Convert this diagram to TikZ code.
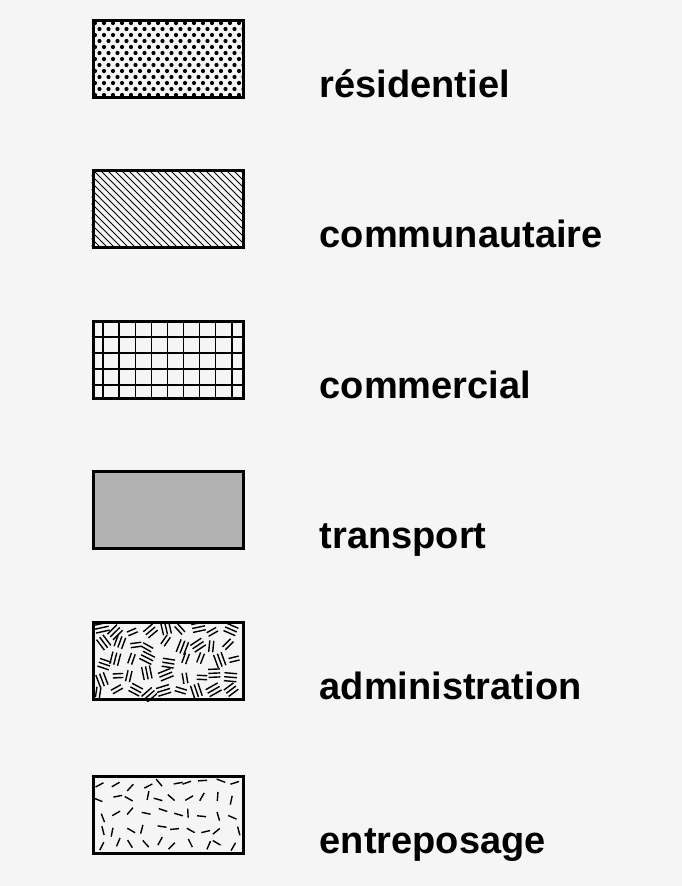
\documentclass[tikz,border=0pt]{standalone}
\usepackage{fontspec}
\setmainfont{Liberation Sans}
\usetikzlibrary{positioning}
\tikzset{
  legendbox/.style={draw, line width=3pt, minimum width=150pt, minimum height=77pt, inner sep=0pt},
  legendtext/.style={font=\fontsize{38}{42}\selectfont\bfseries, inner sep=0pt},
  hatch/.style={line width=1pt},
  gridline/.style={line width=1.4pt},
  stroke/.style={line width=1.4pt},
}

\begin{document}
\begin{tikzpicture}[x=1pt, y=-1pt]
    % paper
    \fill[black!4] (0,0) rectangle (682,886);
    \useasboundingbox (0,0) rectangle (682,886);

    % legend boxes
    \node[legendbox] (res) at (168,58.5) {};
    \node[legendbox] (comm) at (168,208.5) {};
    \node[legendbox] (comrc) at (168,359.5) {};
    \node[legendbox, fill=black!30] (transp) at (168,509.5) {};
    \node[legendbox] (admin) at (168,661) {};
    \node[legendbox] (entrep) at (168,814.5) {};

    % dots
    \begin{scope}
        \clip (res.south west) rectangle (res.north east);
        \foreach \r in {0,...,12}
            \foreach \c in {0,...,17}
                \fill ({95+9*\c+4.5*mod(\r,2)},{23+6*\r}) circle (2.1pt);
    \end{scope}

    % diagonal hatching
    \begin{scope}
        \clip (comm.south west) rectangle (comm.north east);
        \foreach \k in {-12,...,22}
            \draw[hatch] ({93+7*\k},170) -- ++(80,80);
    \end{scope}

    % grid
    \begin{scope}
        \clip (comrc.south west) rectangle (comrc.north east);
        \foreach \k in {0,...,8}
            \draw[gridline] ({103+16.1*\k},321) -- ++(0,77);
        \foreach \k in {0,...,3}
            \draw[gridline] (93,{337+16*\k}) -- ++(150,0);
    \end{scope}

    % clustered strokes
    \pgfmathsetseed{42}
    \begin{scope}
        \clip (admin.south west) rectangle (admin.north east);
        \foreach \c in {0,...,8}
            \foreach \r in {0,...,4}{
                \pgfmathsetmacro\px{101+16.5*\c+4*rand}
                \pgfmathsetmacro\py{630+15.5*\r+4*rand}
                \pgfmathsetmacro\ang{180*rnd}
                \pgfmathsetmacro\len{5+2*rnd}
                \begin{scope}[shift={(\px,\py)}, rotate=\ang]
                    \draw[stroke] (-\len,-4) -- (\len,-4) (-\len,0) -- (\len,0);
                    \ifdim\len pt>5.8pt \draw[stroke] (-\len,4) -- (\len,4); \fi
                \end{scope}
            }
    \end{scope}

    % scattered strokes
    \pgfmathsetseed{7}
    \begin{scope}
        \clip (entrep.south west) rectangle (entrep.north east);
        \foreach \c in {0,...,9}
            \foreach \r in {0,...,4}{
                \pgfmathsetmacro\px{100+15*\c+4*rand}
                \pgfmathsetmacro\py{784+15*\r+4*rand}
                \pgfmathsetmacro\ang{180*rnd}
                \begin{scope}[shift={(\px,\py)}, rotate=\ang]
                    \draw[stroke] (-4.5,0) -- (4.5,0);
                \end{scope}
            }
    \end{scope}

    % labels
    \node[legendtext, right=75pt of res.south east, anchor=base west, yshift=1.5pt] (lres) {résidentiel};
    \node[legendtext, right=75pt of comm.south east, anchor=base west, yshift=1.5pt] (lcomm) {communautaire};
    \node[legendtext, right=75pt of comrc.south east, anchor=base west, yshift=1.5pt] (lcomrc) {commercial};
    \node[legendtext, right=75pt of transp.south east, anchor=base west, yshift=1.5pt] (ltransp) {transport};
    \node[legendtext, right=75pt of admin.south east, anchor=base west, yshift=1.5pt] (ladmin) {administration};
    \node[legendtext, right=75pt of entrep.south east, anchor=base west, yshift=1.5pt] (lentrep) {entreposage};
\end{tikzpicture}
\end{document}
